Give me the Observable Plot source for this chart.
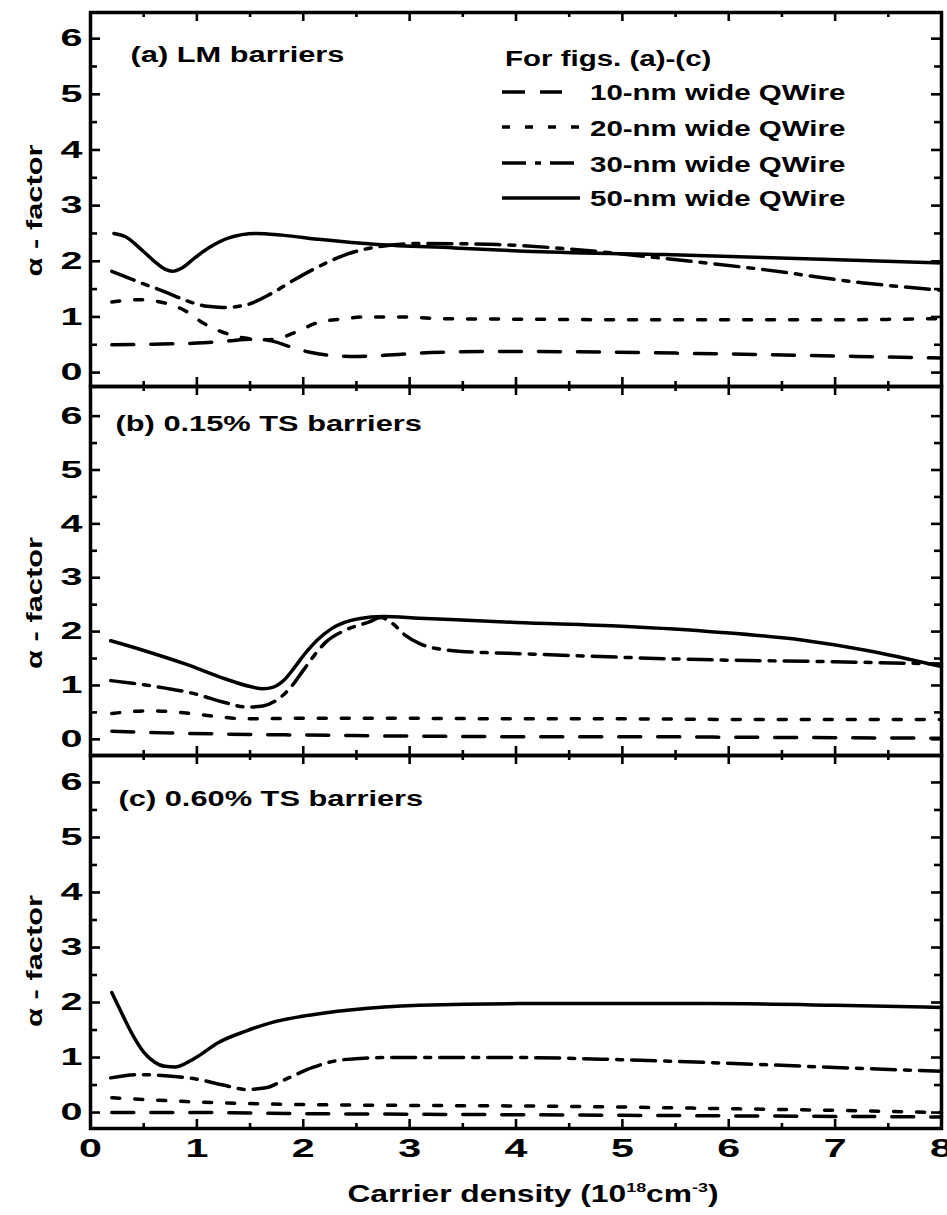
<!DOCTYPE html>
<html>
<head>
<meta charset="utf-8">
<script src="https://cdn.jsdelivr.net/npm/d3@7"></script>
<script src="https://cdn.jsdelivr.net/npm/@observablehq/plot@0.6"></script>
<style>
  body { margin: 0; background: #fff; }
  #chart { position: relative; width: 947px; height: 1215px; overflow: hidden; background: #fff; }
  #chart svg { position: absolute; left: 0; overflow: visible; }
</style>
</head>
<body>
<div id="chart"></div>
<script>
// Linewidth enhancement (alpha) factor of quantum wires versus carrier density,
// for three barrier types and four wire widths.

const wireLabels = ["10-nm wide QWire", "20-nm wide QWire", "30-nm wide QWire", "50-nm wide QWire"];
const panelTitles = ["(a) LM barriers", "(b) 0.15% TS barriers", "(c) 0.60% TS barriers"];
const legendTitle = "For figs. (a)-(c)";
const yLabel = "\u03b1 - factor";
const xTickValues = [0, 1, 2, 3, 4, 5, 6, 7, 8];
const yTickValues = [0, 1, 2, 3, 4, 5, 6];

// (a) lattice-matched barriers — [carrier density (1e18 cm^-3), alpha]
const lm10 = [[0.2,0.50],[0.6,0.51],[1.0,0.53],[1.3,0.57],[1.5,0.60],[1.7,0.57],[1.85,0.48],[2.05,0.37],[2.25,0.31],[2.5,0.29],[2.85,0.32],[3.2,0.36],[3.9,0.38],[4.8,0.37],[5.5,0.35],[6.4,0.32],[7.2,0.29],[8.0,0.26]];
const lm20 = [[0.2,1.27],[0.45,1.31],[0.7,1.25],[0.9,1.10],[1.05,0.90],[1.25,0.72],[1.45,0.62],[1.65,0.59],[1.78,0.62],[1.92,0.72],[2.14,0.90],[2.35,0.96],[2.6,1.00],[2.9,1.00],[3.3,0.97],[4.0,0.96],[5.0,0.95],[6.0,0.95],[7.0,0.95],[8.0,0.97]];
const lm30 = [[0.2,1.82],[0.45,1.63],[0.7,1.45],[0.92,1.28],[1.1,1.19],[1.25,1.17],[1.45,1.21],[1.7,1.42],[1.9,1.65],[2.1,1.86],[2.4,2.12],[2.7,2.26],[3.1,2.32],[3.83,2.30],[4.5,2.22],[5.3,2.07],[6.33,1.85],[7.27,1.61],[8.0,1.48]];
const lm50 = [[0.22,2.50],[0.33,2.44],[0.45,2.26],[0.6,2.00],[0.7,1.86],[0.77,1.82],[0.86,1.88],[0.98,2.06],[1.12,2.25],[1.3,2.42],[1.55,2.50],[1.8,2.47],[2.17,2.39],[2.7,2.30],[3.42,2.24],[4.08,2.18],[5.39,2.12],[6.95,2.03],[8.0,1.97]];

// (b) 0.15% tensile-strained barriers
const ts15w10 = [[0.2,0.15],[0.7,0.12],[1.2,0.10],[2.0,0.08],[3.0,0.06],[4.0,0.05],[5.0,0.05],[6.0,0.04],[7.0,0.03],[8.0,0.02]];
const ts15w20 = [[0.2,0.48],[0.55,0.53],[0.9,0.49],[1.2,0.42],[1.45,0.38],[2.0,0.39],[3.0,0.39],[4.0,0.38],[5.0,0.38],[6.0,0.37],[7.0,0.37],[8.0,0.37]];
const ts15w30 = [[0.19,1.09],[0.58,0.99],[0.99,0.84],[1.27,0.68],[1.46,0.60],[1.62,0.62],[1.76,0.74],[1.88,0.96],[2.0,1.28],[2.1,1.55],[2.21,1.80],[2.40,2.03],[2.62,2.18],[2.73,2.26],[2.84,2.15],[2.96,1.93],[3.09,1.78],[3.34,1.66],[3.72,1.61],[4.03,1.59],[5.74,1.48],[6.99,1.44],[8.0,1.40]];
const ts15w50 = [[0.19,1.83],[0.5,1.65],[0.89,1.40],[1.27,1.12],[1.5,0.98],[1.62,0.94],[1.72,0.97],[1.82,1.10],[1.92,1.34],[2.02,1.60],[2.13,1.84],[2.27,2.06],[2.52,2.24],[2.75,2.28],[3.09,2.25],[4.0,2.17],[5.0,2.10],[5.9,1.99],[6.7,1.84],[7.3,1.65],[8.0,1.35]];

// (c) 0.60% tensile-strained barriers
const ts60w10 = [[0.2,0.00],[1.0,0.00],[2.0,-0.02],[3.0,-0.03],[4.0,-0.04],[5.0,-0.05],[6.0,-0.06],[7.0,-0.07],[8.0,-0.08]];
const ts60w20 = [[0.2,0.27],[0.9,0.20],[1.8,0.15],[3.0,0.13],[4.0,0.12],[5.0,0.10],[6.0,0.07],[7.0,0.04],[8.0,0.00]];
const ts60w30 = [[0.19,0.63],[0.45,0.69],[0.7,0.67],[0.99,0.61],[1.27,0.49],[1.46,0.42],[1.65,0.45],[1.83,0.60],[2.09,0.82],[2.37,0.96],[2.78,1.00],[3.4,1.00],[4.0,1.00],[5.0,0.96],[5.8,0.91],[7.0,0.82],[8.0,0.75]];
const ts60w50 = [[0.2,2.18],[0.3,1.78],[0.4,1.40],[0.5,1.10],[0.6,0.92],[0.7,0.84],[0.8,0.83],[0.9,0.90],[1.0,1.01],[1.2,1.27],[1.46,1.48],[1.71,1.64],[1.99,1.75],[2.46,1.87],[3.09,1.95],[4.03,1.98],[5.8,1.98],[7.0,1.95],[8.0,1.91]];

// Line style for each wire width (10, 20, 30, 50 nm)
const dashes = ["22,17", "8,15", "24,9,6,9", null];

const W = 947, ML = 90, MR = 6;
const FONT = "'Liberation Sans', Arial, sans-serif";

const panels = [
  { title: panelTitles[0], series: [lm10, lm20, lm30, lm50], frameTop: 12, frameBottom: 386,
    yDomain: [-0.25, 6.47], titleDx: 40, titleDy: 34, labelDy: 11 },
  { title: panelTitles[1], series: [ts15w10, ts15w20, ts15w30, ts15w50], frameTop: 386, frameBottom: 755,
    yDomain: [-0.30, 6.55], titleDx: 25, titleDy: 29, labelDy: 32 },
  { title: panelTitles[2], series: [ts60w10, ts60w20, ts60w30, ts60w50], frameTop: 755, frameBottom: 1128,
    yDomain: [-0.29, 6.49], titleDx: 28, titleDy: 35, labelDy: 19 }
];

const xMajor = d3.range(1, 8);
const xMinor = d3.range(0.5, 8, 1);
const yMajor = d3.range(0, 7);
const yMinor = d3.range(0.5, 6, 1);

// Widen glyphs along their baseline to the heavy, broad lettering of the figure
function stretch(nodes, k) {
  nodes.forEach(t => {
    const w = t.getComputedTextLength();
    if (w > 0) {
      t.setAttribute("textLength", (w * k).toFixed(1));
      t.setAttribute("lengthAdjust", "spacingAndGlyphs");
    }
  });
}

const chart = document.getElementById("chart");

panels.forEach((p, idx) => {
  const last = idx === panels.length - 1;
  const pad = 8;
  const marginTop = idx === 0 ? p.frameTop : pad;
  const marginBottom = last ? 48 : pad;
  const innerH = p.frameBottom - p.frameTop;
  const innerW = W - ML - MR;
  const height = marginTop + innerH + marginBottom;

  const tickStyle = { stroke: "black", strokeWidth: 2.6 };
  const marks = [
    ...p.series.map((s, i) => Plot.line(s, {
      x: d => d[0], y: d => d[1], curve: "monotone-x",
      stroke: "black", strokeWidth: 3.5, strokeDasharray: dashes[i]
    })),
    // inward ticks on all four sides
    Plot.tickY(yMajor, { y: d => d, insetRight: innerW - 10, ...tickStyle }),
    Plot.tickY(yMinor, { y: d => d, insetRight: innerW - 7, ...tickStyle }),
    Plot.tickY(yMajor, { y: d => d, insetLeft: innerW - 10, ...tickStyle }),
    Plot.tickY(yMinor, { y: d => d, insetLeft: innerW - 7, ...tickStyle }),
    Plot.tickX(xMajor, { x: d => d, insetTop: innerH - 9, ...tickStyle }),
    Plot.tickX(xMinor, { x: d => d, insetTop: innerH - 5, ...tickStyle }),
    Plot.tickX(xMajor, { x: d => d, insetBottom: innerH - 9, ...tickStyle }),
    Plot.tickX(xMinor, { x: d => d, insetBottom: innerH - 5, ...tickStyle }),
    Plot.frame({ stroke: "black", strokeWidth: 3.5 }),
    Plot.axisY(yTickValues, { tickSize: 0, tickPadding: 8, tickFormat: d => String(d), label: null,
      fontSize: 24, fontWeight: "bold", fill: "black" }),
    Plot.text([p.title], { text: d => d, frameAnchor: "top-left", lineAnchor: "top",
      dx: p.titleDx, dy: p.titleDy, fontSize: 22, fontWeight: "bold", fill: "black" }),
    Plot.text([yLabel], { text: d => d, frameAnchor: "left", rotate: -90, textAnchor: "middle",
      dx: -56, dy: p.labelDy, fontSize: 22, fontWeight: "bold", fill: "black" })
  ];
  if (last) {
    marks.push(Plot.axisX(xTickValues, { tickSize: 0, tickPadding: 11, tickFormat: d => String(d), label: null,
      fontSize: 25, fontWeight: "bold", fill: "black" }));
  }

  const svg = Plot.plot({
    width: W, height, marginLeft: ML, marginRight: MR, marginTop, marginBottom,
    x: { domain: [0, 8], axis: last ? undefined : null },
    y: { domain: p.yDomain, axis: null },
    style: { fontFamily: FONT, fontWeight: "bold", color: "black", background: "transparent", overflow: "visible" },
    marks
  });
  svg.style.top = (p.frameTop - marginTop) + "px";
  chart.appendChild(svg);
  stretch(svg.querySelectorAll('g[aria-label$="tick label"] text'), 1.65);
  stretch(svg.querySelectorAll('g[aria-label="text"] text'), 1.4);
});

// Legend (shared by all three panels) and x-axis title
const NS = "http://www.w3.org/2000/svg";
const over = document.createElementNS(NS, "svg");
over.setAttribute("width", W);
over.setAttribute("height", 1215);
over.style.top = "0px";
over.setAttribute("font-family", FONT);
over.setAttribute("font-weight", "bold");

const legendRows = [
  { y: 92, x2: 562, base: 100 },
  { y: 127, x2: 580, base: 136 },
  { y: 163, x2: 578, base: 172 },
  { y: 198, x2: 580, base: 206 }
];
let html = `<text x="505" y="66" font-size="22" fill="black">${legendTitle}</text>`;
legendRows.forEach((r, i) => {
  html += `<line x1="502" x2="${r.x2}" y1="${r.y}" y2="${r.y}" stroke="black" stroke-width="3.5"` +
          (dashes[i] ? ` stroke-dasharray="${i === 0 ? "23,15" : dashes[i]}"` : "") + `/>`;
  html += `<text x="590" y="${r.base}" font-size="22" fill="black">${wireLabels[i]}</text>`;
});
html += `<text id="xtitle" x="533" y="1202" font-size="23" fill="black" text-anchor="middle">Carrier density (10` +
        `<tspan font-size="13" dy="-10">18</tspan><tspan dy="10">cm</tspan>` +
        `<tspan font-size="13" dy="-10">-3</tspan><tspan dy="10">)</tspan></text>`;
over.innerHTML = html;
chart.appendChild(over);
stretch(over.querySelectorAll("text:not(#xtitle)"), 1.34);
stretch(over.querySelectorAll("#xtitle"), 1.38);
</script>
</body>
</html>
